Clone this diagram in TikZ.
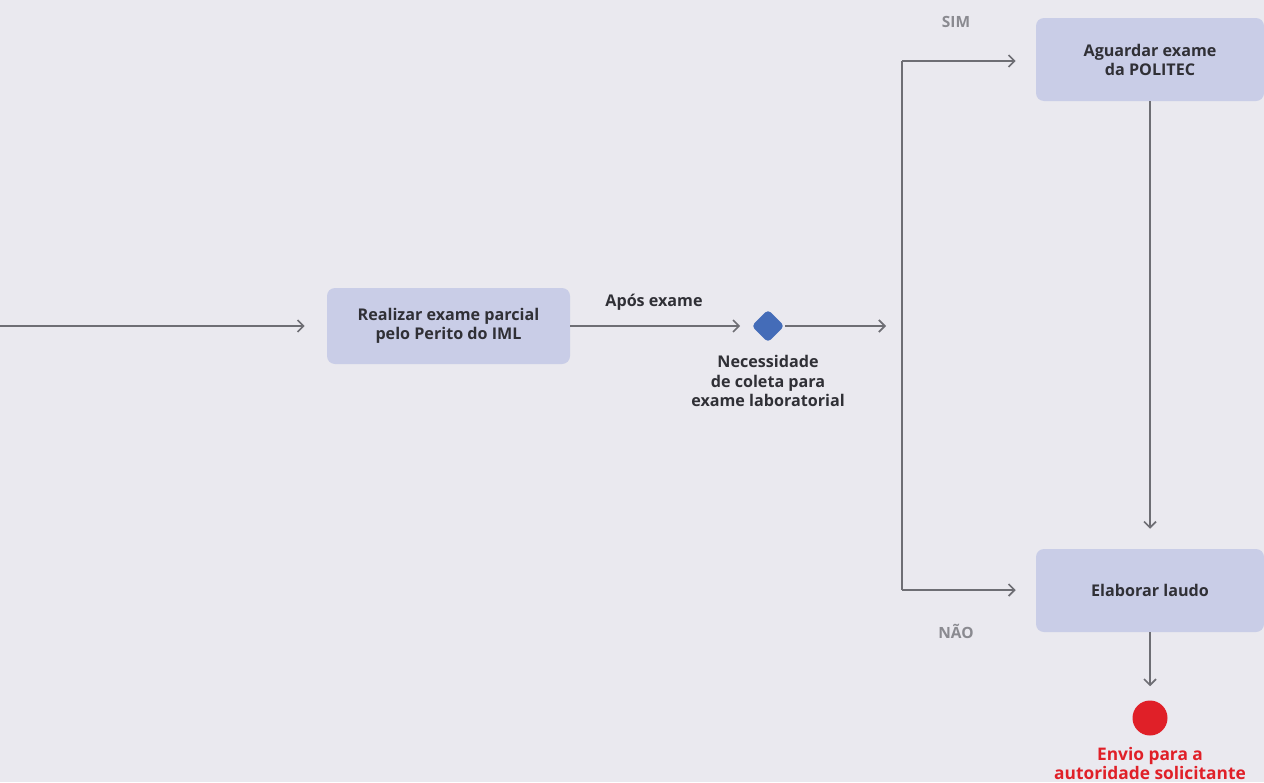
\documentclass[tikz,border=0pt]{standalone}
\usepackage{fontspec}
\setmainfont{Open Sans}
\usetikzlibrary{arrows.meta,shapes.geometric}
\definecolor{bg}{RGB}{234,233,239}
\definecolor{boxfill}{RGB}{201,205,231}
\definecolor{linegray}{RGB}{110,110,116}
\definecolor{labelgray}{RGB}{138,138,144}
\definecolor{txt}{RGB}{48,48,54}
\definecolor{redc}{RGB}{224,32,40}
\definecolor{diamondblue}{RGB}{68,108,184}
\tikzset{
  proc/.style={draw=none, fill=boxfill, rounded corners=6pt, align=center, font=\fontsize{12.1pt}{14.3pt}\selectfont\bfseries, text=txt, inner sep=0pt},
  conn/.style={draw=linegray, line width=1.4pt, -{Straight Barb[length=4.5pt,width=9pt,line width=1.3pt]}},
  plainline/.style={draw=linegray, line width=1.4pt},
  lbl/.style={font=\fontsize{12.1pt}{14.6pt}\selectfont\bfseries, text=txt, align=center, inner sep=0pt},
  glbl/.style={font=\fontsize{11.6pt}{14.2pt}\selectfont\bfseries, text=labelgray, inner sep=0pt},
  rlbl/.style={font=\fontsize{13pt}{14.5pt}\selectfont\bfseries, text=redc, align=center, inner sep=0pt},
}
\begin{document}
\begin{tikzpicture}[x=0.75pt,y=-0.75pt]
\fill[bg] (0,0) rectangle (1264,782);
\useasboundingbox (0,0) rectangle (1264,782);
% nodes
\node[proc, minimum width=243*0.75pt, minimum height=76*0.75pt] (b1) at (448.5,326) {Realizar exame parcial\\pelo Perito do IML};
\node[proc, minimum width=228*0.75pt, minimum height=83*0.75pt] (b2) at (1150,59.5) {Aguardar exame\\da POLITEC};
\node[proc, minimum width=228*0.75pt, minimum height=83*0.75pt] (b3) at (1150,590.5) {Elaborar laudo};
\node[draw=none, fill=diamondblue, diamond, rounded corners=3pt, minimum width=33*0.75pt, minimum height=33*0.75pt, inner sep=0pt] (d) at (768,326) {};
\node[circle, fill=redc, minimum size=35*0.75pt, inner sep=0pt] (end) at (1150,718) {};
\coordinate (start) at (0,326);
\coordinate (dout) at (886,326);
\coordinate (top) at (902,61);
\coordinate (bot) at (902,590);
% labels
\node[lbl] (apos) at (654,302) {Após exame};
\node[lbl] (nec) at (768,381) {Necessidade\\de coleta para\\exame laboratorial};
\node[glbl] (sim) at (956,22) {SIM};
\node[glbl] (nao) at (956,631) {NÃO};
\node[rlbl] (envio) at (1150,763.5) {Envio para a\\autoridade solicitante};
% connectors
\draw[conn, shorten >=22*0.75pt] (start) -- (b1.west);
\draw[conn, shorten >=11*0.75pt] (b1.east) -- (d.west);
\draw[conn] (d.east) -- (dout);
\draw[plainline] (top) -- (bot);
\draw[conn, shorten >=20*0.75pt] (top) -- (top -| b2.west);
\draw[conn, shorten >=20*0.75pt] (bot) -- (bot -| b3.west);
\draw[conn, shorten >=20*0.75pt] (b2.south) -- (b3.north);
\draw[conn, shorten >=14*0.75pt] (b3.south) -- (end.north);
\end{tikzpicture}
\end{document}
